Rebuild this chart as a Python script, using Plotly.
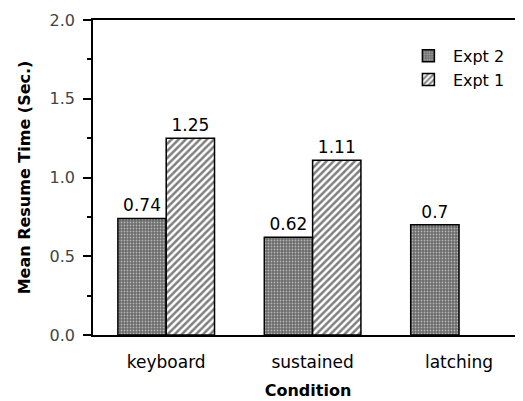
import plotly.graph_objects as go

categories = ["keyboard", "sustained", "latching"]
expt2 = [0.74, 0.62, 0.70]
expt1 = [1.25, 1.11, None]
expt2_labels = ["0.74", "0.62", "0.7"]
expt1_labels = ["1.25", "1.11", ""]

FONT = "DejaVu Sans"

fig = go.Figure()
fig.add_trace(go.Bar(
    name="Expt 2", x=categories, y=expt2,
    text=expt2_labels, textposition="outside", cliponaxis=False,
    textfont=dict(family=FONT, size=17, color="black"),
    marker=dict(color="#777", line=dict(color="black", width=1.5),
                pattern=dict(shape=".", size=3, solidity=0.3,
                             fgcolor="white", bgcolor="#6a6a6a")),
))
fig.add_trace(go.Bar(
    name="Expt 1", x=categories, y=expt1,
    text=expt1_labels, textposition="outside", cliponaxis=False,
    textfont=dict(family=FONT, size=17, color="black"),
    marker=dict(color="white", line=dict(color="black", width=1.5),
                pattern=dict(shape="/", size=5, solidity=0.5,
                             fgcolor="black", bgcolor="white")),
))

fig.update_layout(
    width=515, height=393,
    margin=dict(l=85, r=0, t=12, b=66),
    paper_bgcolor="white", plot_bgcolor="white",
    barmode="group", bargap=0.34, bargroupgap=0,
    showlegend=True,
    legend=dict(x=0.723, y=0.94, xanchor="left", yanchor="top",
                font=dict(family=FONT, size=16, color="black"),
                bgcolor="rgba(0,0,0,0)", tracegroupgap=0, itemwidth=39),
    font=dict(family=FONT, color="black"),
)
fig.update_xaxes(
    range=[-0.5, 2.437], showline=True, linecolor="black", linewidth=1.5,
    mirror=True, ticks="", showgrid=False, zeroline=False,
    ticklabelstandoff=11,
    tickfont=dict(family=FONT, size=17, color="black"),
    title=dict(text="<b>Condition</b>", font=dict(family=FONT, size=16, color="black"), standoff=14),
)
fig.update_yaxes(
    range=[0, 2.0], tickvals=[0, 0.5, 1.0, 1.5, 2.0],
    ticktext=["0.0", "0.5", "1.0", "1.5", "2.0"],
    showline=True, linecolor="black", linewidth=1.5, showgrid=False, zeroline=False,
    ticks="outside", ticklen=8, tickwidth=1.5, tickcolor="black",
    ticklabelstandoff=5,
    minor=dict(tickvals=[0.25, 0.75, 1.25, 1.75], ticks="outside", ticklen=4,
               tickwidth=1.5, tickcolor="black"),
    tickfont=dict(family=FONT, size=16, color="#444"),
    title=dict(text="<b>Mean Resume Time (Sec.)</b>", font=dict(family=FONT, size=16, color="black"), standoff=15),
)

fig.write_html("out.html")
